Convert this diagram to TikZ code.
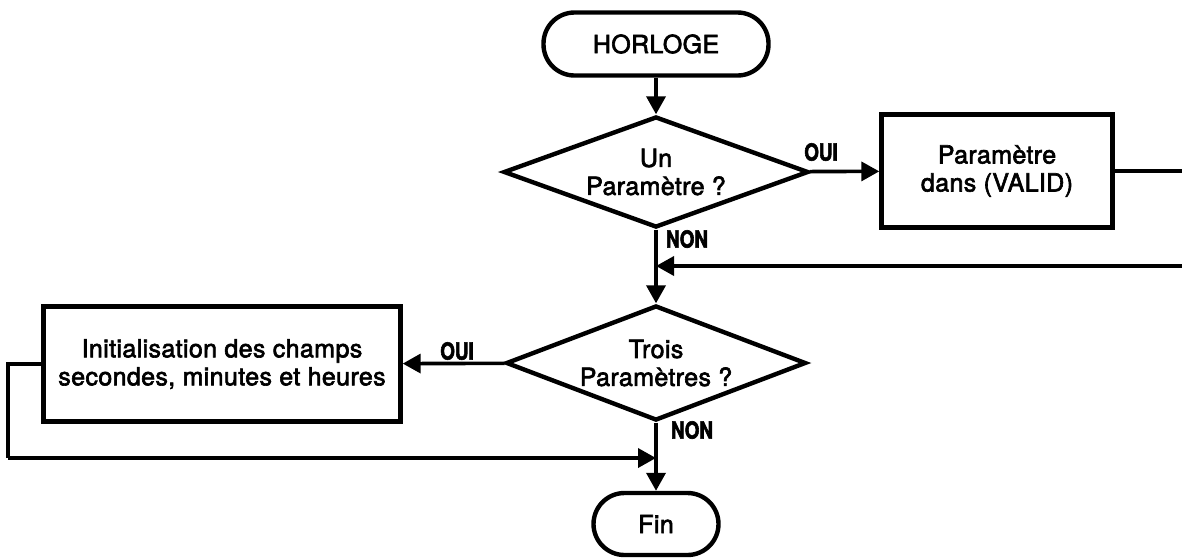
\documentclass[tikz,border=0pt]{standalone}
\usepackage{fontspec}
\setmainfont{TeX Gyre Heros}[LetterSpace=1.5, FakeBold=2.5]
\newfontfamily\condfont{TeX Gyre Heros}[FakeStretch=0.8, FakeBold=2.5]
\usetikzlibrary{shapes.geometric,arrows.meta}
\begin{document}
\begin{tikzpicture}[x=1pt,y=-1pt,
  every node/.style={font=\fontsize{25}{28}\selectfont, align=center},
  line/.style={line width=3.6pt, line join=miter},
  arr/.style={line, -{Triangle[length=18pt,width=19pt]}},
  shp/.style={draw, line width=4.4pt, inner sep=0pt},
  term/.style={shp, rectangle, rounded corners=31pt},
  proc/.style={shp, rectangle},
  dec/.style={shp, diamond, aspect=2.6},
  lab/.style={font=\condfont\bfseries\fontsize{23.5}{26}\selectfont, inner sep=0pt}]
\useasboundingbox (0,0) rectangle (1182,558);
\node[term, minimum width=225pt, minimum height=63pt] (h) at (656,44) {HORLOGE};
\node[dec, minimum width=305pt, minimum height=111pt] (d1) at (656,172) {Un\\Paramètre ?};
\node[proc, minimum width=231pt, minimum height=113pt] (b1) at (997,171) {Paramètre\\dans (VALID)};
\node[dec, minimum width=300pt, minimum height=115pt] (d2) at (656,363) {Trois\\Paramètres ?};
\node[proc, minimum width=357pt, minimum height=115pt] (b2) at (222,364) {Initialisation des champs\\secondes, minutes et heures};
\node[term, minimum width=125pt, minimum height=62pt] (fin) at (656,524) {Fin};
\coordinate (r1) at (1182,171);
\coordinate (r2) at (1182,266);
\coordinate (j1) at (656,266);
\coordinate (c1) at (8,364);
\coordinate (c2) at (8,458);
\coordinate (j2) at (656,458);
\node[lab] (oui1) at (821,152) {OUI};
\node[lab] (non1) at (687,239) {NON};
\node[lab] (oui2) at (457,351) {OUI};
\node[lab] (non2) at (692,430) {NON};
\draw[arr] (h) -- (d1);
\draw[arr] (d1) -- (b1);
\draw[line] (b1) -- (r1);
\draw[arr] (d1) -- (d2);
\draw[arr] (r2) -- (j1);
\draw[arr] (d2) -- (b2);
\draw[line] (b2.west) -- (c1) -- (c2);
\draw[arr] (c2) -- (j2);
\draw[arr] (d2) -- (fin);
\end{tikzpicture}
\end{document}
